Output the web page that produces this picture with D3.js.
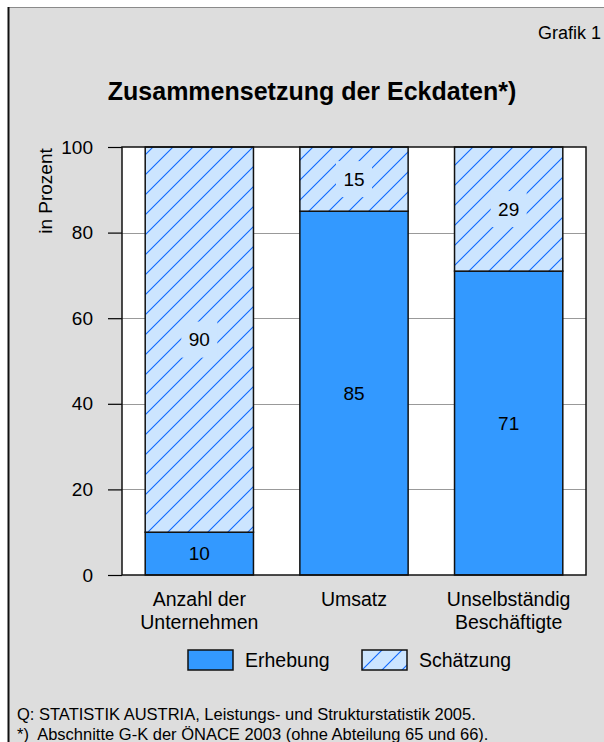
<!DOCTYPE html>
<html>
<head>
<meta charset="utf-8">
<script src="https://cdn.jsdelivr.net/npm/d3@7"></script>
<style>
  body { margin: 0; background: #fff; }
  svg { display: block; font-family: "Liberation Sans", Arial, sans-serif; }
</style>
</head>
<body>
<div id="chart"></div>
<script>
const categories = [["Anzahl der", "Unternehmen"], ["Umsatz"], ["Unselbständig", "Beschäftigte"]];
const erhebung = [10, 85, 71];
const schaetzung = [90, 15, 29];
const yTicks = [0, 20, 40, 60, 80, 100];
const seriesNames = ["Erhebung", "Schätzung"];

const width = 604, height = 742;
const plot = { left: 122, right: 586, top: 147, bottom: 575 };

const svg = d3.select("#chart").append("svg")
  .attr("width", width)
  .attr("height", height);

// hatch pattern for Schätzung
const defs = svg.append("defs");
const pat = defs.append("pattern")
  .attr("id", "hatch")
  .attr("patternUnits", "userSpaceOnUse")
  .attr("width", 20).attr("height", 20);
pat.append("rect").attr("width", 20).attr("height", 20).attr("fill", "#cce5ff");
[[0, 20, 20, 0], [-5, 5, 5, -5], [15, 25, 25, 15]].forEach(l => {
  pat.append("line")
    .attr("x1", l[0]).attr("y1", l[1]).attr("x2", l[2]).attr("y2", l[3])
    .attr("stroke", "#0a66ff").attr("stroke-width", 1.1);
});

// frame
svg.append("rect").attr("x", 9).attr("y", 8).attr("width", width).attr("height", height)
  .attr("fill", "#dddddd");
svg.append("line").attr("x1", 8).attr("x2", width).attr("y1", 7.5).attr("y2", 7.5)
  .attr("stroke", "#8a8a8a").attr("stroke-width", 1);
svg.append("line").attr("x1", 8.5).attr("x2", 8.5).attr("y1", 7).attr("y2", height)
  .attr("stroke", "#111").attr("stroke-width", 2);

svg.append("text").attr("x", 601).attr("y", 39).attr("text-anchor", "end")
  .style("font-size", "18px").text("Grafik 1");

svg.append("text").attr("x", 312).attr("y", 100).attr("text-anchor", "middle")
  .style("font-size", "25px").style("font-weight", "bold")
  .text("Zusammensetzung der Eckdaten*)");

const x = d3.scaleBand()
  .domain(d3.range(categories.length))
  .range([plot.left, plot.right])
  .paddingInner(0.3)
  .paddingOuter(0.15);

const y = d3.scaleLinear().domain([0, 100]).range([plot.bottom, plot.top]);

// plot background
svg.append("rect")
  .attr("x", plot.left).attr("y", plot.top)
  .attr("width", plot.right - plot.left).attr("height", plot.bottom - plot.top)
  .attr("fill", "#fff");

// gridlines
svg.append("g").selectAll("line")
  .data(yTicks.filter(d => d > 0 && d < 100))
  .enter().append("line")
  .attr("x1", plot.left).attr("x2", plot.right)
  .attr("y1", d => Math.round(y(d)) + 0.5).attr("y2", d => Math.round(y(d)) + 0.5)
  .attr("stroke", "#999").attr("stroke-width", 1);

// y axis
const yAxis = svg.append("g")
  .attr("transform", `translate(${plot.left},0)`)
  .call(d3.axisLeft(y).tickValues(yTicks).tickSize(14).tickPadding(15).tickFormat(d3.format("d")));
yAxis.select(".domain").remove();
yAxis.selectAll(".tick line").attr("stroke", "#000").attr("stroke-width", 1.2);
yAxis.selectAll(".tick text").style("font-size", "19px").attr("fill", "#000")
  .style("font-family", "Liberation Sans, Arial, sans-serif");

svg.append("text")
  .attr("transform", "translate(52,191) rotate(-90)")
  .attr("text-anchor", "middle")
  .style("font-size", "19px")
  .text("in Prozent");

// stacked bars
const stacked = categories.map((c, i) => [
  { i, y0: 0, y1: erhebung[i], v: erhebung[i], fill: "#3399ff", hatch: false },
  { i, y0: erhebung[i], y1: erhebung[i] + schaetzung[i], v: schaetzung[i], fill: "url(#hatch)", hatch: true }
]).flat();

svg.append("g").selectAll("rect")
  .data(stacked)
  .enter().append("rect")
  .attr("x", d => x(d.i))
  .attr("width", x.bandwidth())
  .attr("y", d => y(d.y1))
  .attr("height", d => y(d.y0) - y(d.y1))
  .attr("fill", d => d.fill)
  .attr("stroke", "#111")
  .attr("stroke-width", 1.5);

// value labels
const labels = svg.append("g").selectAll("g")
  .data(stacked)
  .enter().append("g")
  .attr("transform", d => `translate(${x(d.i) + x.bandwidth() / 2},${y((d.y0 + d.y1) / 2)})`);

labels.filter(d => d.hatch).append("rect")
  .attr("x", -18).attr("y", -18).attr("width", 36).attr("height", 36)
  .attr("fill", "#cce5ff");

labels.append("text")
  .attr("text-anchor", "middle")
  .attr("dy", "0.36em")
  .style("font-size", "19px")
  .text(d => d.v);

// plot frame
svg.append("rect")
  .attr("x", plot.left).attr("y", plot.top)
  .attr("width", plot.right - plot.left).attr("height", plot.bottom - plot.top)
  .attr("fill", "none").attr("stroke", "#111").attr("stroke-width", 1.5);

// category labels
const cat = svg.append("g").selectAll("text")
  .data(categories)
  .enter().append("text")
  .attr("x", (d, i) => x(i) + x.bandwidth() / 2)
  .attr("y", 606)
  .attr("text-anchor", "middle")
  .style("font-size", "19.5px");
cat.selectAll("tspan")
  .data(d => d)
  .enter().append("tspan")
  .attr("x", function () { return d3.select(this.parentNode).attr("x"); })
  .attr("dy", (d, j) => j === 0 ? 0 : 22.5)
  .text(d => d);

// legend
const legendX = [188, 362];
const legend = svg.append("g").selectAll("g")
  .data(seriesNames)
  .enter().append("g")
  .attr("transform", (d, i) => `translate(${legendX[i]},650)`);
legend.append("rect")
  .attr("width", 45).attr("height", 20)
  .attr("fill", (d, i) => i === 0 ? "#3399ff" : "url(#hatch)")
  .attr("stroke", "#111").attr("stroke-width", 1.5);
legend.append("text")
  .attr("x", 57).attr("y", 17)
  .style("font-size", "19.5px")
  .text(d => d);

// source notes
svg.append("text").attr("x", 17).attr("y", 720).style("font-size", "16.5px")
  .text("Q: STATISTIK AUSTRIA, Leistungs- und Strukturstatistik 2005.");
svg.append("text").attr("x", 17).attr("y", 740).style("font-size", "16.5px")
  .attr("xml:space", "preserve")
  .text("*)  Abschnitte G-K der ÖNACE 2003 (ohne Abteilung 65 und 66).");
</script>
</body>
</html>
